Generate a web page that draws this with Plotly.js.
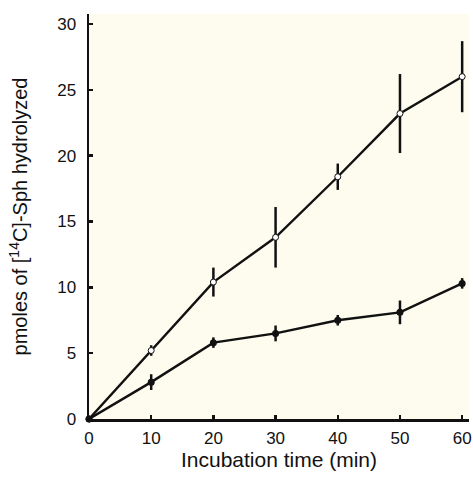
<!DOCTYPE html>
<html><head><meta charset="utf-8">
<script src="https://cdn.plot.ly/plotly-3.0.1.min.js"></script>
<style>html,body{margin:0;padding:0;background:#fff}</style>
</head><body><div id="c" style="width:473px;height:477px"></div>
<script>
const time = [0, 10, 20, 30, 40, 50, 60];
const openVals = [0, 5.2, 10.4, 13.8, 18.4, 23.2, 26.0];
const openErr = [0, 0.4, 1.1, 2.3, 1.0, 3.0, 2.7];
const filledVals = [0, 2.8, 5.8, 6.5, 7.5, 8.1, 10.3];
const filledErr = [0, 0.6, 0.4, 0.6, 0.4, 0.9, 0.4];
const xTicks = [0, 10, 20, 30, 40, 50, 60];
const yTicks = [0, 5, 10, 15, 20, 25, 30];

const font = "Liberation Sans, Arial, sans-serif";
const traces = [
  {x: time, y: openVals, mode: 'lines+markers', cliponaxis: false,
   error_y: {type: 'data', array: openErr, color: '#111', thickness: 2.5, width: 0},
   line: {color: '#111', width: 2.4},
   marker: {symbol: 'circle', size: 6, color: '#fff', line: {color: '#111', width: 1}}},
  {x: time, y: filledVals, mode: 'lines+markers', cliponaxis: false,
   error_y: {type: 'data', array: filledErr, color: '#111', thickness: 2.5, width: 0},
   line: {color: '#111', width: 2.4},
   marker: {symbol: 'circle', size: 7, color: '#111'}}
];
const layout = {
  width: 473, height: 477, showlegend: false,
  margin: {l: 89, r: 4, t: 14, b: 58},
  paper_bgcolor: '#fff', plot_bgcolor: '#fdfcef',
  font: {family: font, color: '#111', size: 17},
  xaxis: {range: [0, 61.1], tickvals: xTicks, ticks: 'inside', ticklen: 4, tickwidth: 2.5,
    tickcolor: '#111', showline: true, linecolor: '#111', linewidth: 2.5, showgrid: false,
    zeroline: false, tickfont: {size: 17}, automargin: false, ticklabelstandoff: 2,
    title: {text: 'Incubation time (min)', font: {size: 21}, standoff: 4}},
  yaxis: {range: [0, 30.76], tickvals: yTicks, ticks: 'inside', ticklen: 4, tickwidth: 2.5,
    tickcolor: '#111', showline: true, linecolor: '#111', linewidth: 2.5, showgrid: false,
    zeroline: false, tickfont: {size: 17}, automargin: false, ticklabelstandoff: 7,
    title: {text: 'pmoles of [<sup>14</sup>C]-Sph hydrolyzed', font: {size: 20}, standoff: 24}}
};
Plotly.newPlot('c', traces, layout, {displayModeBar: false, staticPlot: true});
</script></body></html>
